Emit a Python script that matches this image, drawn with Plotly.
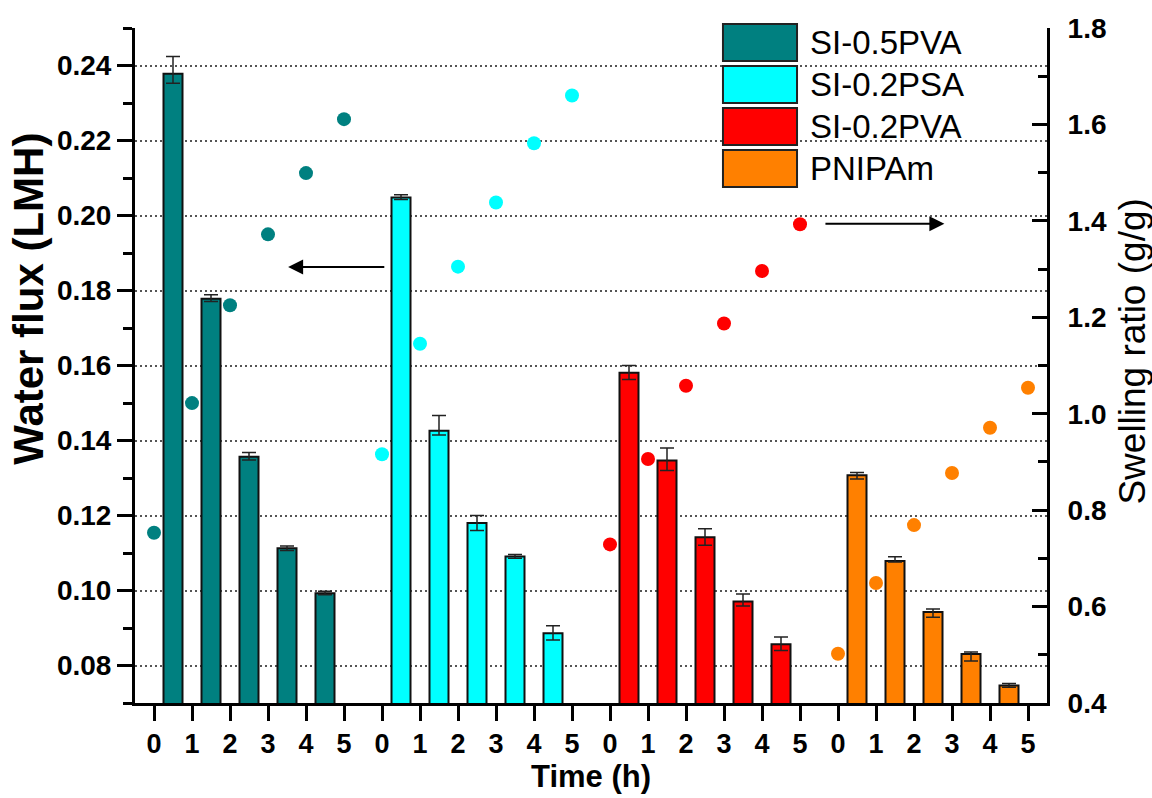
import plotly.graph_objects as go

# Sampling times (h) within each sample block
hours = [0, 1, 2, 3, 4, 5]
samples = ["SI-0.5PVA", "SI-0.2PSA", "SI-0.2PVA", "PNIPAm"]
colors = ["#008080", "#00FFFF", "#FF0000", "#FF8000"]

# Water flux (LMH) over each 1 h interval
flux_si05pva = [0.2378, 0.1778, 0.1357, 0.1113, 0.0993]
flux_si02psa = [0.2048, 0.1426, 0.1180, 0.1091, 0.0886]
flux_si02pva = [0.1581, 0.1347, 0.1142, 0.0971, 0.0857]
flux_pnipam = [0.1307, 0.1079, 0.0943, 0.0831, 0.0747]

# Error bars (upper / lower)
err_up_si05pva = [0.0046, 0.0011, 0.0011, 0.0006, 0.0005]
err_dn_si05pva = [0.0025, 0.0007, 0.0009, 0.0006, 0.0004]
err_up_si02psa = [0.0007, 0.0041, 0.0020, 0.0005, 0.0020]
err_dn_si02psa = [0.0005, 0.0011, 0.0020, 0.0005, 0.0018]
err_up_si02pva = [0.0019, 0.0033, 0.0023, 0.0020, 0.0019]
err_dn_si02pva = [0.0018, 0.0027, 0.0021, 0.0012, 0.0017]
err_up_pnipam = [0.0008, 0.0011, 0.0008, 0.0005, 0.0005]
err_dn_pnipam = [0.0010, 0.0003, 0.0014, 0.0019, 0.0005]

# Swelling ratio (g/g) at each sampling time
swell_si05pva = [0.753, 1.022, 1.225, 1.372, 1.499, 1.611]
swell_si02psa = [0.916, 1.145, 1.305, 1.438, 1.561, 1.660]
swell_si02pva = [0.729, 0.906, 1.058, 1.187, 1.296, 1.393]
swell_pnipam = [0.502, 0.649, 0.769, 0.877, 0.971, 1.054]

flux_sets = [flux_si05pva, flux_si02psa, flux_si02pva, flux_pnipam]
err_up_sets = [err_up_si05pva, err_up_si02psa, err_up_si02pva, err_up_pnipam]
err_dn_sets = [err_dn_si05pva, err_dn_si02psa, err_dn_si02pva, err_dn_pnipam]
swell_sets = [swell_si05pva, swell_si02psa, swell_si02pva, swell_pnipam]

FONT = "Liberation Sans, Arial, sans-serif"
block = len(hours)

fig = go.Figure()

# Flux bars sit between consecutive time ticks
for g, (name, col) in enumerate(zip(samples, colors)):
    xs = [g * block + h + 0.5 for h in hours[:-1]]
    fig.add_trace(go.Bar(
        x=xs, y=flux_sets[g], name=name, width=0.5,
        marker=dict(color=col, line=dict(color="#111111", width=2)),
        error_y=dict(type="data", symmetric=False,
                     array=err_up_sets[g], arrayminus=err_dn_sets[g],
                     color="#222222", thickness=1.5, width=7),
        showlegend=False, yaxis="y",
    ))

# Swelling ratio points on the secondary axis
for g, (name, col) in enumerate(zip(samples, colors)):
    xs = [g * block + h for h in hours]
    fig.add_trace(go.Scatter(
        x=xs, y=swell_sets[g], mode="markers", name=name,
        marker=dict(color=col, size=14, line=dict(width=0)),
        showlegend=False, yaxis="y2",
    ))

tick_font = dict(family=FONT, size=28, color="black", weight="bold")

fig.update_layout(
    width=1152, height=798,
    margin=dict(l=135, r=105, t=28, b=95),
    paper_bgcolor="white", plot_bgcolor="white",
    barmode="overlay",
    xaxis=dict(
        range=[-0.5, len(samples) * block - 0.5],
        tickmode="array",
        tickvals=list(range(len(samples) * block)),
        ticktext=[str(h) for _ in samples for h in hours],
        ticks="outside", ticklen=15, tickwidth=3, tickcolor="black",
        showline=True, linewidth=3, linecolor="black",
        showgrid=False, zeroline=False,
        tickfont=dict(family=FONT, size=27, color="black", weight="bold"),
    ),
    yaxis=dict(
        range=[0.07, 0.25],
        tickmode="linear", tick0=0.08, dtick=0.02, tickformat=".2f",
        ticks="outside", ticklen=15, tickwidth=3, tickcolor="black",
        minor=dict(ticks="outside", ticklen=9, tickwidth=3, tickcolor="black",
                   dtick=0.01, tick0=0.07, showgrid=False),
        showline=True, linewidth=3, linecolor="black",
        showgrid=True, gridcolor="#555555", gridwidth=1.5, griddash="2px,3px",
        zeroline=False,
        tickfont=tick_font,
    ),
    yaxis2=dict(
        overlaying="y", side="right",
        range=[0.4, 1.8],
        tickmode="linear", tick0=0.4, dtick=0.2, tickformat=".1f",
        ticks="inside", ticklen=15, tickwidth=3, tickcolor="black",
        minor=dict(ticks="inside", ticklen=9, tickwidth=3, tickcolor="black",
                   dtick=0.1, tick0=0.4, showgrid=False),
        showline=True, linewidth=3, linecolor="black",
        showgrid=False, zeroline=False,
        ticklabelstandoff=12,
        tickfont=tick_font,
    ),
)

# Axis titles
annotations = [
    dict(text="Time (h)", xref="paper", yref="paper", x=0.5, y=-0.1385,
         xanchor="center", yanchor="bottom", showarrow=False,
         font=dict(family=FONT, size=31, color="black", weight="bold")),
    dict(text="Water flux (LMH)", xref="paper", yref="paper", x=-0.1162, y=0.599,
         xanchor="center", yanchor="middle", showarrow=False, textangle=-90,
         font=dict(family=FONT, size=42, color="black", weight="bold")),
    dict(text="Swelling ratio (g/g)", xref="paper", yref="paper", x=1.0935, y=0.521,
         xanchor="center", yanchor="middle", showarrow=False, textangle=-90,
         font=dict(family=FONT, size=37, color="black")),
]

# Arrows pointing to the axis each series belongs to
annotations.append(dict(x=3.53, y=0.1863, ax=6.1, ay=0.1863, xref="x", yref="y",
                        axref="x", ayref="y", text="", showarrow=True,
                        arrowhead=2, arrowsize=1.5, arrowwidth=2, arrowcolor="black"))
annotations.append(dict(x=20.8, y=0.1978, ax=17.63, ay=0.1978, xref="x", yref="y",
                        axref="x", ayref="y", text="", showarrow=True,
                        arrowhead=2, arrowsize=1.5, arrowwidth=2, arrowcolor="black"))

# Legend: colour swatches with labels, top right of the plot area
shapes = []
box_x0, box_x1 = 0.6447, 0.7259
box_top, box_h, box_gap = 1.0059, 0.0548, 0.0074
for i, (name, col) in enumerate(zip(samples, colors)):
    y1 = box_top - i * (box_h + box_gap)
    y0 = y1 - box_h
    shapes.append(dict(type="rect", xref="paper", yref="paper",
                       x0=box_x0, x1=box_x1, y0=y0, y1=y1,
                       fillcolor=col, line=dict(color="#222222", width=2)))
    annotations.append(dict(text=name, xref="paper", yref="paper",
                            x=0.738, y=(y0 + y1) / 2, xanchor="left", yanchor="middle",
                            showarrow=False,
                            font=dict(family=FONT, size=33, color="black")))

fig.update_layout(annotations=annotations, shapes=shapes)

fig.write_html("out.html")
